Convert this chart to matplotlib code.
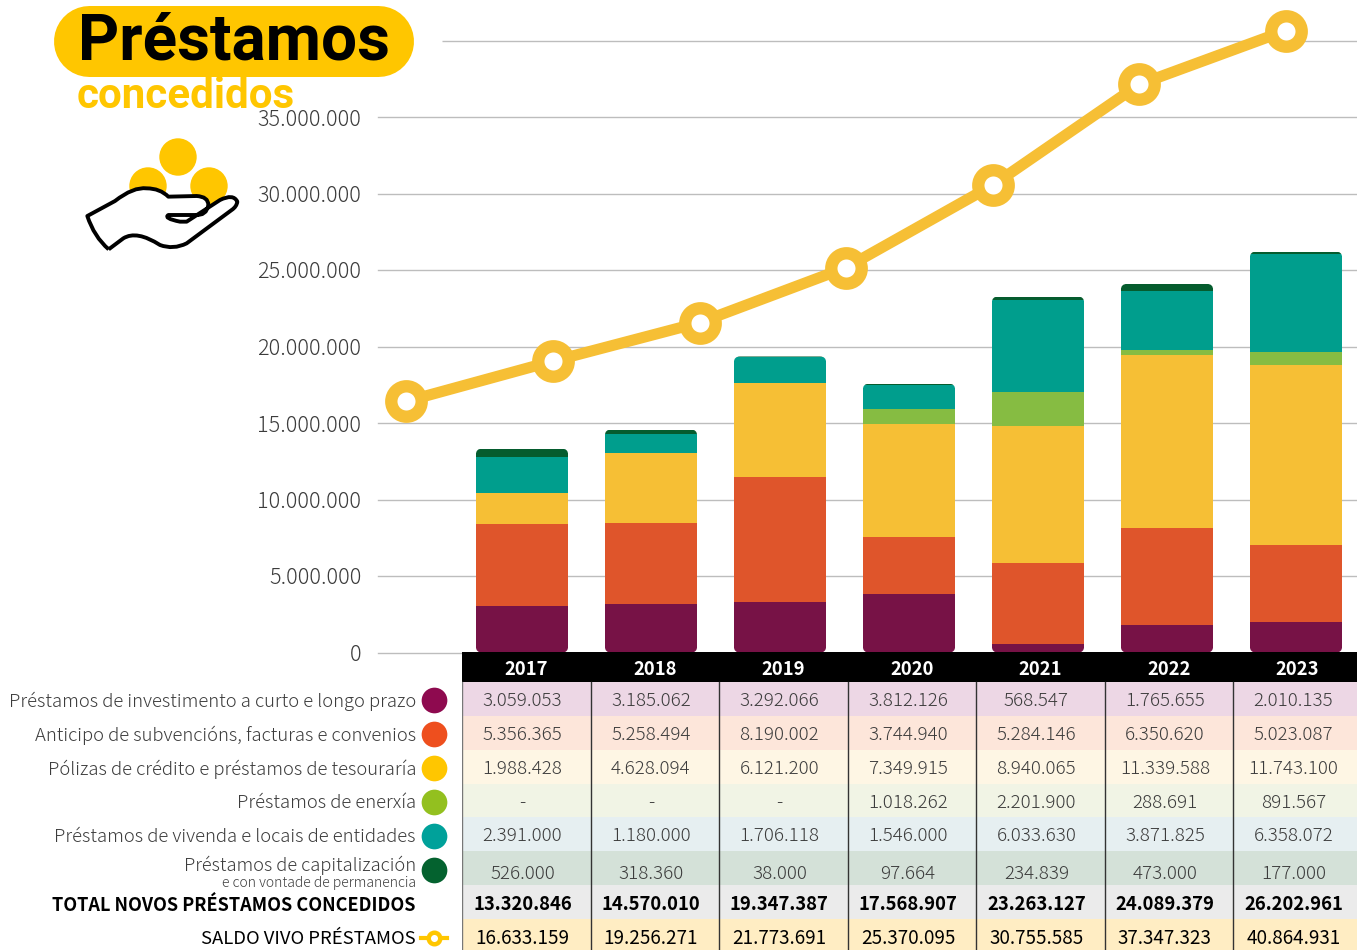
import matplotlib
matplotlib.use('Agg')
import matplotlib.pyplot as plt
from matplotlib.patches import FancyBboxPatch, PathPatch, Rectangle
from matplotlib.path import Path
from matplotlib.transforms import IdentityTransform

plt.rcParams['font.family'] = ['Noto Sans CJK JP', 'DejaVu Sans']

W, H = 1357, 950

years = ['2017', '2018', '2019', '2020', '2021', '2022', '2023']

investimento = [3059053, 3185062, 3292066, 3812126, 568547, 1765655, 2010135]
anticipo = [5356365, 5258494, 8190002, 3744940, 5284146, 6350620, 5023087]
polizas = [1988428, 4628094, 6121200, 7349915, 8940065, 11339588, 11743100]
enerxia = [0, 0, 0, 1018262, 2201900, 288691, 891567]
vivenda = [2391000, 1180000, 1706118, 1546000, 6033630, 3871825, 6358072]
capitalizacion = [526000, 318360, 38000, 97664, 234839, 473000, 177000]
total_novos = [13320846, 14570010, 19347387, 17568907, 23263127, 24089379, 26202961]
saldo_vivo = [16633159, 19256271, 21773691, 25370095, 30755585, 37347323, 40864931]

series = [investimento, anticipo, polizas, enerxia, vivenda, capitalizacion]
bar_colors = ['#771246', '#DF552B', '#F6BF35', '#86BC42', '#009E8D', '#055C2E']
dot_colors = ['#8E0A4F', '#EE4F1E', '#FFC600', '#93C01F', '#00A19A', '#04622F']
row_colors = ['#EDD7E5', '#FDE6DA', '#FEF6E4', '#F1F4E5', '#E6EFF1', '#D4E1D8', '#EBEBEB', '#FFEDC3']
row_labels = ['Préstamos de investimento a curto e longo prazo',
              'Anticipo de subvencións, facturas e convenios',
              'Pólizas de crédito e préstamos de tesouraría',
              'Préstamos de enerxía',
              'Préstamos de vivenda e locais de entidades',
              'Préstamos de capitalización']

GREY = '#3c3c3c'
YELLOW = '#FFC600'


def fmt(v):
    # miles con punto, cero como guion
    return f'{v:,}'.replace(',', '.') if v else '-'


def px_axes(x0, y0, x1, y1, **kw):
    # axes dada en pixeles de la imagen (y hacia abajo)
    return fig.add_axes([x0 / W, 1 - y1 / H, (x1 - x0) / W, (y1 - y0) / H], **kw)


fig = plt.figure(figsize=(W / 100, H / 100), dpi=100)

# capa de pixeles: titulo, icono, leyenda
ax_px = px_axes(0, 0, W, H)
ax_px.set_xlim(0, W)
ax_px.set_ylim(H, 0)
ax_px.axis('off')
ax_px.set_zorder(3)
ax_px.patch.set_alpha(0)

# barras apiladas
ax = px_axes(378, 40.5, W, 652.5)
ax.set_zorder(1)
ax.set_xlim((378 - 522) / 129, (W - 522) / 129)
ax.set_ylim(0, 40000000)
for s in ax.spines.values():
    s.set_visible(False)
ax.set_xticks([])
ticks = list(range(0, 40000000, 5000000))
ax.set_yticks(ticks)
ax.set_yticklabels([f'{t:,}'.replace(',', '.') for t in ticks], fontsize=15.6, fontweight='light', color=GREY)
ax.tick_params(axis='y', length=0, pad=12)
ax.grid(axis='y', color='#bdbdbd', lw=1, clip_on=False)
ax.set_axisbelow(True)
ax.hlines(40000000, (442 - 522) / 129, (W - 522) / 129, color='#bdbdbd', lw=1, clip_on=False)

bottom = [0] * len(years)
stacks = []
for vals, col in zip(series, bar_colors):
    bars = ax.bar(range(len(years)), vals, 0.715, bottom=bottom, color=col, linewidth=0)
    stacks.append(bars)
    bottom = [b + v for b, v in zip(bottom, vals)]

# esquinas redondeadas de cada columna
r = 6
for i in range(len(years)):
    (xa, ya) = ax.transData.transform((i - 0.3575, 0))
    (xb, yb) = ax.transData.transform((i + 0.3575, bottom[i]))
    clip = FancyBboxPatch((xa + r, ya + r), xb - xa - 2 * r, yb - ya - 2 * r,
                          boxstyle=f'round,pad={r},rounding_size={r}', transform=IdentityTransform())
    for bars in stacks:
        bars[i].set_clip_path(clip)

# saldo vivo, con su propia escala
ax_line = px_axes(378, 41, W, 653)
ax_line.set_zorder(2)
ax_line.patch.set_alpha(0)
ax_line.axis('off')
ax_line.set_xlim((378 - 406.3) / 146.6, (W - 406.3) / 146.6)
ax_line.set_ylim(180000, 40180000)
ax_line.plot(range(len(years)), saldo_vivo, color='#F6BF35', lw=8, marker='o', ms=21.9,
             mfc='white', mec='#F6BF35', mew=8.9, clip_on=False)

# tabla
ax_t = px_axes(462, 652, W, H)
ax_t.set_zorder(4)
ax_t.set_xlim(0, (W - 462) / 128.5)
ax_t.set_ylim(8 - 3 / 34, -30 / 34)
ax_t.axis('off')
ax_t.add_patch(Rectangle((0, -30 / 34), 8, 30 / 34, color='black', lw=0))
for i, col in enumerate(row_colors):
    ax_t.add_patch(Rectangle((0, i), 8, 1, color=col, lw=0))
for j in range(7):
    ax_t.plot([j, j], [0, 8], color='#333333' if j else '#777777', lw=1, clip_on=True)

for j, y in enumerate(years):
    ax_t.text(j + 0.5, -0.36, y, color='white', fontsize=13.3, fontweight='bold', ha='center', va='center')
for i, vals in enumerate(series):
    dy = 0.66 if i == 5 else 0.56
    for j, v in enumerate(vals):
        ax_t.text(j + 0.47, i + dy, fmt(v), color=GREY, fontsize=13.5, fontweight='light', ha='center', va='center')
for i, vals in [(6, total_novos), (7, saldo_vivo)]:
    for j, v in enumerate(vals):
        ax_t.text(j + 0.47, i + 0.56, fmt(v), color='black', fontsize=13.3 if i == 6 else 13.6,
                  fontweight='bold' if i == 6 else 'normal', ha='center', va='center')

# etiquetas de filas y puntos de color
row_y = [701, 735, 769, 803, 837]
for lab, y, col in zip(row_labels, row_y, dot_colors):
    ax_px.text(416, y, lab, color=GREY, fontsize=13.3, fontweight='light', ha='right', va='center')
    ax_px.plot(434, y - 1, 'o', color=col, ms=18.5, mew=0)
ax_px.text(416, 865, row_labels[5], color=GREY, fontsize=13.2, fontweight='light', ha='right', va='center')
ax_px.text(416, 883, 'e con vontade de permanencia', color=GREY, fontsize=10, fontweight='light', ha='right', va='center')
ax_px.plot(434, 870, 'o', color=dot_colors[5], ms=18.5, mew=0)
ax_px.text(416, 905, 'TOTAL NOVOS PRÉSTAMOS CONCEDIDOS', color='black', fontsize=13, fontweight='bold', ha='right', va='center')
ax_px.text(416, 939, 'SALDO VIVO PRÉSTAMOS', color='black', fontsize=13.3, ha='right', va='center')
ax_px.plot([421, 447], [938, 938], color=YELLOW, lw=3)
ax_px.plot(434, 938, 'o', mfc='white', mec=YELLOW, mew=3.2, ms=8.3)

# titulo
ax_px.plot([88.5, 377.5], [40.5, 40.5], color=YELLOW, lw=71 * 0.72, solid_capstyle='round')
ax_px.text(233.5, 60, 'Préstamos', family='Roboto', fontweight='bold', fontsize=46, color='black', ha='center', va='baseline')
ax_px.text(77, 107.5, 'concedidos', family='Roboto', fontweight='bold', fontsize=30.3, color=YELLOW, ha='left', va='baseline')

# icono: monedas y mano
for cx, cy in [(178, 157), (148, 186), (209, 186)]:
    ax_px.add_patch(plt.Circle((cx, cy), 18.7, fc=YELLOW, ec='none'))
hand = [(326, 748), (282, 710), (262, 648), (345, 603), (400, 560), (440, 565), (480, 565), (505, 590), (590, 588),
        (625, 590), (625, 615), (620, 648), (585, 645), (505, 645), (490, 655), (540, 665), (560, 665),
        (660, 600), (700, 580), (712, 605), (710, 620), (695, 630), (560, 730), (520, 750), (480, 735),
        (410, 690), (370, 715), (326, 748)]
codes = [Path.MOVETO, Path.CURVE3, Path.CURVE3, Path.LINETO,
         Path.CURVE3, Path.CURVE3, Path.CURVE3, Path.CURVE3,
         Path.LINETO,
         Path.CURVE3, Path.CURVE3, Path.CURVE3, Path.CURVE3,
         Path.LINETO,
         Path.CURVE3, Path.CURVE3,
         Path.LINETO, Path.LINETO,
         Path.CURVE3, Path.CURVE3, Path.CURVE3, Path.CURVE3,
         Path.LINETO,
         Path.CURVE3, Path.CURVE3,
         Path.CURVE3, Path.CURVE3,
         Path.LINETO]
ax_px.add_patch(PathPatch(Path([(x / 3, y / 3) for x, y in hand], codes), fc='white', ec='black', lw=2.8, joinstyle='round'))

fig.savefig('out.png', dpi=100)
